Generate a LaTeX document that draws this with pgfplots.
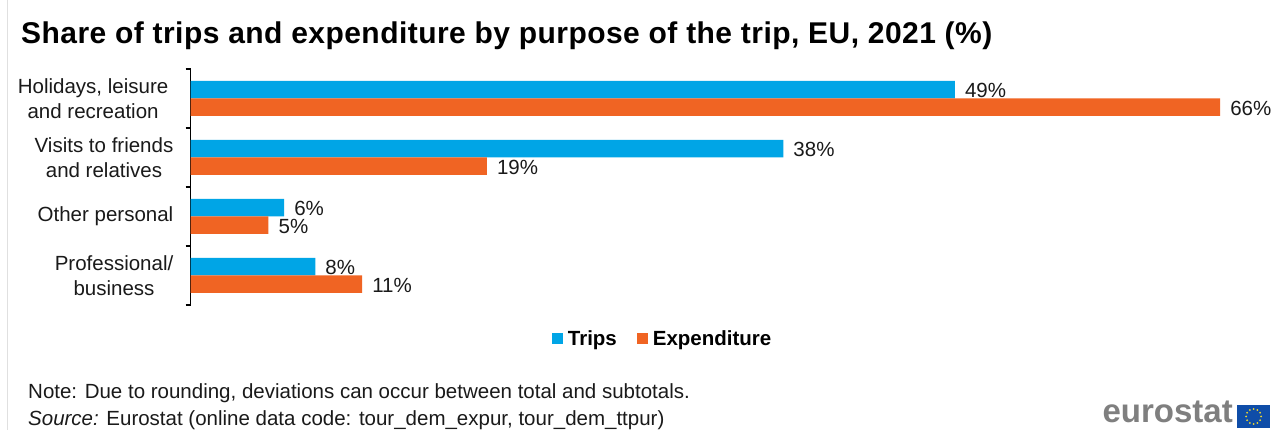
\documentclass[border=0pt]{standalone}
\usepackage{pgfplots}
\usepackage{fontspec}
\setmainfont{Liberation Sans}
\pgfplotsset{compat=1.18}
\definecolor{tripsblue}{HTML}{00A5E6}
\definecolor{exporange}{HTML}{F06423}
\definecolor{labelink}{HTML}{1A1A1A}
\definecolor{logogrey}{HTML}{7F7F7F}
\definecolor{flagblue}{HTML}{0F4DA8}
\definecolor{flagstar}{HTML}{F2D92E}
\newcommand{\lab}{\fontsize{20.5}{24.5}\selectfont}
\begin{document}
\begin{tikzpicture}[x=1pt,y=1pt]
\path[use as bounding box,fill=white] (0,0) rectangle (1272,430);
\draw[black!12,line width=1pt] (7.5,0) -- (7.5,430);
\begin{axis}[
  at={(190.5pt,125pt)},anchor=south west,
  scale only axis,width=1060.8pt,height=236pt,
  xmin=0,xmax=68,ymin=-0.5,ymax=3.5,y dir=reverse,
  clip=false,
  axis x line=none,axis y line=left,
  axis line style={-,black,line width=1.1pt},
  xbar,bar width=17.5pt,
  ytick={0,1,2,3},
  yticklabels={{Holidays, leisure\hspace*{5pt}\\and recreation\hspace*{5pt}},{Visits to friends\\and relatives},{Other personal},{Professional/\\business}},
  yticklabel style={align=center,font=\lab,text=labelink,inner sep=0pt,xshift=-17pt},
  major tick length=0pt,
  minor ytick={-0.5,0.5,1.5,2.5,3.5},
  minor tick length=5pt,
  minor tick style={black,line width=1.1pt},
  tick align=outside,
  /pgf/number format/assume math mode=true,
  nodes near coords={\pgfmathprintnumber{\pgfplotspointmeta}\%},
  point meta=x,
  every node near coord/.append style={font=\lab,text=labelink,anchor=west,inner sep=0pt,xshift=10pt,yshift=-1pt},
  legend columns=2,
  legend style={at={(axis description cs:0.4465,-0.143)},anchor=center,draw=none,fill=none,
    font=\lab\bfseries,inner sep=0pt,
    nodes={inner xsep=5pt},
    /tikz/every even column/.append style={column sep=15pt}},
  legend image code/.code={\fill[#1] (0pt,-5.5pt) rectangle (11pt,5.5pt);},
]
\addplot[fill=tripsblue,draw=none,bar shift=8.75pt] coordinates {(49,0) (38,1) (6,2) (8,3)};
\addplot[fill=exporange,draw=none,bar shift=-8.75pt] coordinates {(66,0) (19,1) (5,2) (11,3)};
\legend{Trips,Expenditure}
\end{axis}
% heading and footnotes
\node[anchor=base west,inner sep=0pt,font=\fontsize{30}{34}\selectfont\bfseries,text=black] at (21,386) {\addfontfeatures{LetterSpace=1.5}Share of trips and expenditure by purpose of the trip, EU, 2021 (\%)};
\node[anchor=base west,inner sep=0pt,font=\lab,text=labelink] at (28,31.5) {Note: Due to rounding, deviations can occur between total and subtotals.};
\node[anchor=base west,inner sep=0pt,font=\lab,text=labelink] at (28,4) {\textit{Source:} Eurostat (online data code: tour\_dem\_expur, tour\_dem\_ttpur)};
% publisher logo
\node[anchor=base east,inner sep=0pt,font=\fontsize{33}{34}\selectfont\bfseries,text=logogrey] at (1233,7.2) {eurostat};
\fill[flagblue] (1237,2) rectangle (1270,25);
\foreach \a in {0,30,...,330}
  \fill[flagstar] ({1253.5+7.5*cos(\a)},{13.5+7.5*sin(\a)}) circle (1pt);
\end{tikzpicture}
\end{document}
